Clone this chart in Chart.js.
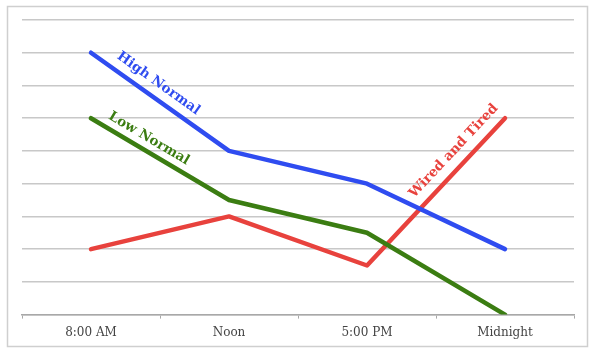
<!DOCTYPE html>
<html>
<head>
<meta charset="utf-8">
<script src="https://cdn.jsdelivr.net/npm/chart.js@4.4.1/dist/chart.umd.min.js"></script>
<style>
html,body{margin:0;padding:0;background:#fff;}
#wrap{position:absolute;left:0;top:0;width:600px;height:358px;}
</style>
</head>
<body>
<div id="wrap"><canvas id="c" width="600" height="358"></canvas></div>
<script>
const categories = ["8:00 AM", "Noon", "5:00 PM", "Midnight"];
const highNormal = [8, 5, 4, 2];
const lowNormal = [6, 3.5, 2.5, 0];
const wiredTired = [2, 3, 1.5, 6];
const seriesNames = ["High Normal", "Low Normal", "Wired and Tired"];

const BLUE = "#2f4cf0", GREEN = "#3b7d12", RED = "#e8423d";

const borderPlugin = {
  id: "frame",
  beforeDraw(chart) {
    const ctx = chart.ctx;
    ctx.save();
    ctx.fillStyle = "#fff";
    ctx.fillRect(0, 0, chart.width, chart.height);
    ctx.strokeStyle = "#cfcfcf";
    ctx.lineWidth = 1.5;
    ctx.strokeRect(7.5, 6.5, 580, 340);
    ctx.restore();
  }
};

const labelPlugin = {
  id: "lineLabels",
  afterDatasetsDraw(chart) {
    const ctx = chart.ctx;
    const xs = chart.scales.x, ys = chart.scales.y;
    const specs = [
      {ds: 0, seg: 0, along: -12, perp: 14},
      {ds: 1, seg: 0, along: -20, perp: 12},
      {ds: 2, seg: 2, along: 42, perp: 15}
    ];
    ctx.save();
    ctx.font = "bold 13.5px 'DejaVu Serif', serif";
    ctx.textAlign = "center";
    ctx.textBaseline = "middle";
    specs.forEach(s => {
      const data = chart.data.datasets[s.ds].data;
      const x1 = xs.getPixelForValue(s.seg), y1 = ys.getPixelForValue(data[s.seg]);
      const x2 = xs.getPixelForValue(s.seg + 1), y2 = ys.getPixelForValue(data[s.seg + 1]);
      const len = Math.hypot(x2 - x1, y2 - y1);
      const dx = (x2 - x1) / len, dy = (y2 - y1) / len;
      let nx = dy, ny = -dx;
      if (ny > 0) { nx = -nx; ny = -ny; }
      const mx = (x1 + x2) / 2 + dx * s.along + nx * s.perp;
      const my = (y1 + y2) / 2 + dy * s.along + ny * s.perp;
      ctx.save();
      ctx.translate(mx, my);
      ctx.rotate(Math.atan2(dy, dx));
      ctx.fillStyle = chart.data.datasets[s.ds].borderColor;
      ctx.fillText(seriesNames[s.ds], 0, 0);
      ctx.restore();
    });
    ctx.restore();
  }
};

new Chart(document.getElementById("c"), {
  type: "line",
  data: {
    labels: categories,
    datasets: [
      {label: seriesNames[0], data: highNormal, borderColor: BLUE},
      {label: seriesNames[1], data: lowNormal, borderColor: GREEN},
      {label: seriesNames[2], data: wiredTired, borderColor: RED}
    ].map(d => Object.assign(d, {borderWidth: 4.5, pointRadius: 0, tension: 0, fill: false,
      borderCapStyle: "round", borderJoinStyle: "round"}))
  },
  options: {
    responsive: false,
    animation: false,
    devicePixelRatio: 1,
    layout: {padding: {left: 22, right: 26, top: 20, bottom: 11}},
    plugins: {legend: {display: false}, tooltip: {enabled: false}},
    scales: {
      x: {
        offset: true,
        grid: {display: true, drawOnChartArea: false, drawTicks: true, tickLength: 4, color: "#a8a8a8", offset: true},
        border: {display: true, color: "#a8a8a8", width: 1.5},
        ticks: {color: "#444", padding: 7, font: {family: "'DejaVu Serif', serif", size: 12}}
      },
      y: {
        min: 0, max: 9,
        grid: {color: "#c8c8c8", lineWidth: 1.5, drawTicks: false},
        border: {display: false},
        ticks: {display: false, stepSize: 1}
      }
    }
  },
  plugins: [borderPlugin, labelPlugin]
});
</script>
</body>
</html>
